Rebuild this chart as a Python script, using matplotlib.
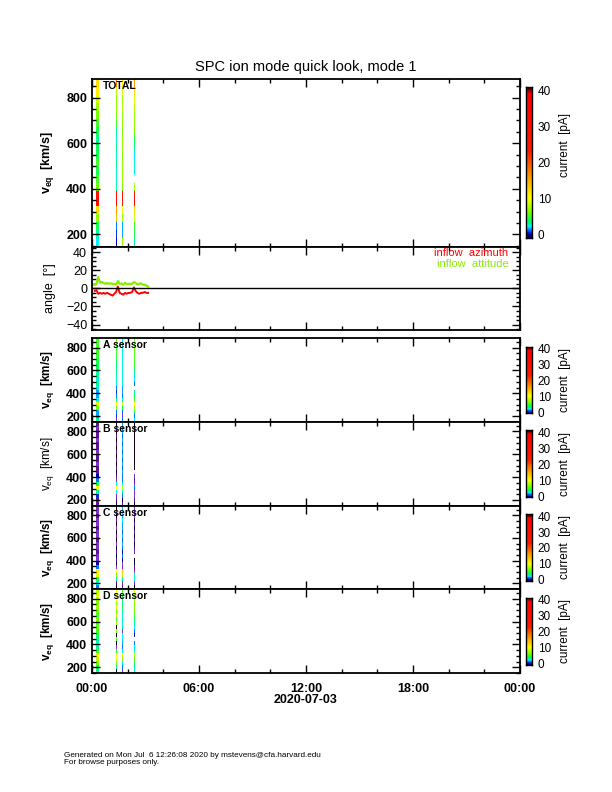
import numpy as np
import matplotlib
matplotlib.use('Agg')
import matplotlib.pyplot as plt
from matplotlib.colors import LinearSegmentedColormap, Normalize
from matplotlib.ticker import MultipleLocator, FixedLocator

plt.rcParams['font.family'] = ['Liberation Sans', 'DejaVu Sans']
plt.rcParams['mathtext.fontset'] = 'custom'
plt.rcParams['mathtext.rm'] = 'Liberation Sans'
plt.rcParams['mathtext.it'] = 'Liberation Sans'
plt.rcParams['mathtext.bf'] = 'Liberation Sans:bold'

# ---------------- data ----------------
v_bins = [165, 200, 235, 270, 305, 340, 375, 410, 445, 480, 515,
          550, 585, 620, 655, 690, 725, 760, 795, 830, 865]
stripe_times = [0.30, 1.38, 1.70, 2.39]   # hours of 2020-07-03
stripe_widths = [0.16, 0.09, 0.09, 0.09]
nan = np.nan

total_s1 = [2, 3, 4, 7, 12, 35, 30, 6, 5, 4, 5, 4, 3.5, 3, 4, 5, 6, 7, 9, 11, 12]
total_s2 = [0, 0.5, 1, 14, 16, 35, 30, 3, 2.5, 2.5, 3, 2.5, 3, 2.5, 3, 5, 6, 7, 7, 8, 18]
total_s3 = [7, 1.5, 1.5, 7, 10, 28, 25, 6, 7, 7, 7, 6, 7, 7, 6, 7, 7, 8, 7, 9, 11]
total_s4 = [3, 4, 5, 9, 12, 30, 25, 7, nan, 2, 2.5, 2, 3, 4, 6, 7, 7, 8, 9, 12, 16]

a_s1 = [3, 1.5, 1.5, 6, 9, 2, 1.5, 1.5, 2.5, 3, 2.5, 3, 3, 3.5, 4, 4, 5, 5, 5, 5, 5]
a_s2 = [-3, 0.5, 1, 6, 9, 3, 1, 0.5, 1, 2, 2.5, 3, 3, 3, 3.5, 4, 5, 5, 5, 5, 6]
a_s3 = [1, -3, 1, 4, 8, 2, 1, 1.5, 1.5, 2, 2.5, 2, 2, 2.5, 2, 2.5, 2, 2.5, 2, 2.5, 2]
a_s4 = [2, 1, 5, 8, 10, 5, 3.5, 3, nan, 1, 2, 2.5, 3, 4, 5, 5, 6, 5, 6, 6, 6]

b_s1 = [-4, -4, 0.5, 3, 10, 4, 1, 0, -4, -4, -3, -4, -4, -3, -4, -4, -3, -4, -4, -3, -4]
b_s2 = [-7, -4, -3, 2, 10, 2, -3, -4, -7, -4, -7, -4, -7, -4, -7, -4, -7, -4, -7, -4, -7]
b_s3 = [-4, -7, 1, 3, 8, 2, 1, 1, 1.5, 1, 1.5, 1, 1.5, 1, 1.5, 1, 1.5, 1, 1.5, 1, 1.5]
b_s4 = [-7, -4, -3, -3, 1, -3, -4, -3, nan, -7, -7, -7, -7, -7, -7, -7, -7, -7, -7, -7, -7]

c_s1 = [1, 2, 4, 9, 11, 1, 0, -3, -3, -4, -3, -3, -4, -3, -3, -4, -3, -3, -4, -3, -3]
c_s2 = [-7, -4, 3, 6, 10, -3, -7, -4, -7, -4, -7, -3, -7, -4, -7, -3, -7, -4, -7, -3, -7]
c_s3 = [-4, -3, 3, 8, 14, -3, -3, 0, 1, 0, 1, 1.5, 1, 1.5, 1, 1.5, 1.5, 2, 1.5, 2, 1.5]
c_s4 = [-7, -3, 2, 3, -3, -4, -7, -7, nan, -3, -4, -7, -4, -7, -4, -7, -4, -7, -3, -4, -3]

d_s1 = [3, 4, 6, 8, 11, 5, 3, 2.5, 3, 4, 5, 6, 5, 6, 5, 6, 7, 6, 8, 9, 8]
d_s2 = [-7, 3, 6, 9, 11, 4, -3, -7, 5, -7, 6, -7, 7, 5, 8, 6, 9, 7, 10, 9, 10]
d_s3 = [-3, 1, 2, 6, 9, 2, 1, 1.5, 2, 2, -3, 3, 2, 3, 2, 3, 4, 3, 4, 4, 5]
d_s4 = [2, 3, 4, 5, 8, 3, 2, 1, nan, 0, 1, 2, 3, 4, 5, 6, 6, 7, 7, 8, 9]

panel_names = ['TOTAL', 'A sensor', 'B sensor', 'C sensor', 'D sensor']
panel_data = [
    [total_s1, total_s2, total_s3, total_s4],
    [a_s1, a_s2, a_s3, a_s4],
    [b_s1, b_s2, b_s3, b_s4],
    [c_s1, c_s2, c_s3, c_s4],
    [d_s1, d_s2, d_s3, d_s4],
]

t_angle = [0.05, 0.15, 0.25, 0.35, 0.45, 0.55, 0.65, 0.75, 0.85, 0.95, 1.05,
           1.15, 1.25, 1.35, 1.45, 1.55, 1.65, 1.75, 1.85, 1.95, 2.05, 2.15,
           2.25, 2.35, 2.45, 2.55, 2.65, 2.75, 2.85, 2.95, 3.05, 3.15]
inflow_attitude = [4.5, 4, 5, 12.5, 6, 7, 6, 5, 6, 5, 5.5, 5, 5, 4, 8, 5,
                   5.5, 4, 6, 5, 5, 5, 5, 7, 6, 4, 5, 5.5, 4, 4, 3, 2]
inflow_azimuth = [nan, -3, -2, -6, -5, -6, -5, -6, -5, -6, -7, -8, -6, -4, 2, -5,
                  -6, -7, -5, -6, -5, -5, -4, 1, -3, -5, -6, -5, -5, -4, -5, -5]

time_ticks = [0, 6, 12, 18, 24]
time_labels = ['00:00', '06:00', '12:00', '18:00', '00:00']
date_label = '2020-07-03'
cbar_ticks = [0, 10, 20, 30, 40]

# ---------------- colour map ----------------
vmin, vmax = -8.0, 41.0
anchors = [(-8, (0, 0, 0)), (-5, (0.25, 0.0, 0.4)), (-3, (0.5, 0.2, 0.8)),
           (-1, (0.05, 0.0, 0.35)), (0, (0.0, 0.0, 0.8)), (1, (0.0, 0.45, 1.0)),
           (2, (0.0, 0.95, 1.0)), (3.5, (0.0, 1.0, 0.35)), (6, (0.45, 1.0, 0.0)),
           (10, (1.0, 1.0, 0.0)), (16, (1.0, 0.6, 0.0)), (23, (1.0, 0.1, 0.0)),
           (39, (1.0, 0.0, 0.0)), (40, (0.6, 0.0, 0.0)), (41, (0.0, 0.0, 0.0))]
cmap = LinearSegmentedColormap.from_list(
    'idl', [((v - vmin) / (vmax - vmin), c) for v, c in anchors])
cmap.set_bad((1, 1, 1, 0))
norm = Normalize(vmin, vmax)

# ---------------- figure ----------------
W, H = 612, 792
fig = plt.figure(figsize=(6.12, 7.92), dpi=100)


def add_ax(x0, y0, x1, y1):
    return fig.add_axes([x0 / W, 1 - y1 / H, (x1 - x0) / W, (y1 - y0) / H])


XL, XR = 92, 520
panel_px = {'TOTAL': (79, 246.7), 'angle': (246.7, 330),
            'A sensor': (338, 421.7), 'B sensor': (421.7, 505.7),
            'C sensor': (505.7, 589), 'D sensor': (589, 673)}


def style_axes(ax, bottom_labels=False):
    ax.set_xlim(0, 24)
    ax.xaxis.set_major_locator(FixedLocator(time_ticks))
    ax.xaxis.set_minor_locator(MultipleLocator(2))
    ax.tick_params(which='both', direction='in', top=True, right=True,
                   width=1.0, colors='black')
    ax.tick_params(which='major', length=6)
    ax.tick_params(which='minor', length=3)
    for s in ax.spines.values():
        s.set_linewidth(1.3)
    if bottom_labels:
        ax.set_xticklabels(time_labels, fontsize=9, fontweight='bold')
        ax.tick_params(axis='x', pad=7)
    else:
        ax.set_xticklabels([])


def add_cbar(y0, y1, lo, hi, label_y):
    cax = add_ax(526, y0, 532, y1)
    lev = np.linspace(lo, hi, 300)
    cax.pcolormesh([0, 1], lev, lev[:-1, None], cmap=cmap, norm=norm,
                   shading='flat', rasterized=True)
    cax.set_ylim(lo, hi)
    cax.set_xlim(0, 1)
    cax.set_xticks([])
    cax.yaxis.tick_right()
    cax.set_yticks(cbar_ticks)
    cax.set_yticklabels([str(t) for t in cbar_ticks], fontsize=8.5)
    cax.tick_params(axis='y', length=0, pad=4)
    for s in cax.spines.values():
        s.set_linewidth(1.0)
    fig.text(565 / W, 1 - label_y / H, 'current  [pA]', rotation=90,
             ha='center', va='center', fontsize=8.5)


t_edges_all = []
for c, w in zip(stripe_times, stripe_widths):
    t_edges_all += [c - w / 2, c + w / 2]
v_arr = np.array(v_bins, dtype=float)
v_edges = np.concatenate([v_arr - 17.5, [v_arr[-1] + 17.5]])

for name, stripes in zip(panel_names, panel_data):
    y0, y1 = panel_px[name]
    ax = add_ax(XL, y0, XR, y1)
    cols = []
    for i, s in enumerate(stripes):
        cols.append(np.array(s, dtype=float))
        if i < len(stripes) - 1:
            cols.append(np.full(len(v_bins), np.nan))
    Z = np.ma.masked_invalid(np.column_stack(cols))
    ax.pcolormesh(t_edges_all, v_edges, Z, cmap=cmap, norm=norm,
                  shading='flat', antialiased=False)
    style_axes(ax, bottom_labels=(name == 'D sensor'))
    if name == 'TOTAL':
        ax.set_ylim(146, 882)
    else:
        ax.set_ylim(150, 885)
    ax.yaxis.set_major_locator(FixedLocator([200, 400, 600, 800]))
    ax.yaxis.set_minor_locator(MultipleLocator(50))
    ax.set_yticklabels(['200', '400', '600', '800'], fontsize=9, fontweight='bold')
    wt = 'normal' if name == 'B sensor' else 'bold'
    ax.set_ylabel(r'$\mathbf{v_{eq}}$  [km/s]' if wt == 'bold' else r'v$_{eq}$  [km/s]',
                  fontsize=9 if name == 'TOTAL' else 8.5, fontweight=wt)
    ax.yaxis.set_label_coords((56 - XL) / (XR - XL), 0.5)
    fy = 0.96 if name == 'TOTAL' else 0.915
    ax.text(0.025, fy, name, transform=ax.transAxes, fontsize=7.5,
            fontweight='bold', ha='left', va='center')
    if name == 'TOTAL':
        add_cbar(86.7, 238, -1, 41, 145)
    else:
        add_cbar(y0 + 8.6, y1 - 8.4, -0.7, 41.3, (y0 + y1) / 2)

# angle panel
y0, y1 = panel_px['angle']
axa = add_ax(XL, y0, XR, y1)
axa.plot(t_angle, inflow_attitude, color='#88ee00', lw=1.6)
axa.plot(t_angle, inflow_azimuth, color='#ff0000', lw=1.4)
axa.axhline(0, color='black', lw=1.0)
style_axes(axa)
axa.set_ylim(-46, 46)
axa.yaxis.set_major_locator(FixedLocator([-40, -20, 0, 20, 40]))
axa.yaxis.set_minor_locator(MultipleLocator(5))
axa.set_yticklabels(['\u221240', '\u221220', '0', '20', '40'], fontsize=9)
axa.set_ylabel('angle  [\u00b0]', fontsize=9)
axa.yaxis.set_label_coords((56 - XL) / (XR - XL), 0.5)
axa.text(0.973, 0.92, 'inflow  azimuth', color='#ff0000', fontsize=8,
         transform=axa.transAxes, ha='right', va='center')
axa.text(0.973, 0.79, 'inflow  attitude', color='#88ee00', fontsize=8,
         transform=axa.transAxes, ha='right', va='center')

fig.text(0.5, 1 - 67 / H, 'SPC ion mode quick look, mode 1', ha='center',
         va='center', fontsize=10.5)
fig.text(306 / W, 1 - 700 / H, date_label, ha='center', va='center',
         fontsize=9, fontweight='bold')
fig.text(64 / W, 1 - 755.5 / H,
         'Generated on Mon Jul  6 12:26:08 2020 by mstevens@cfa.harvard.edu',
         ha='left', va='center', fontsize=5.9)
fig.text(64 / W, 1 - 763 / H, 'For browse purposes only.',
         ha='left', va='center', fontsize=5.9)

fig.savefig('out.png', dpi=100)
